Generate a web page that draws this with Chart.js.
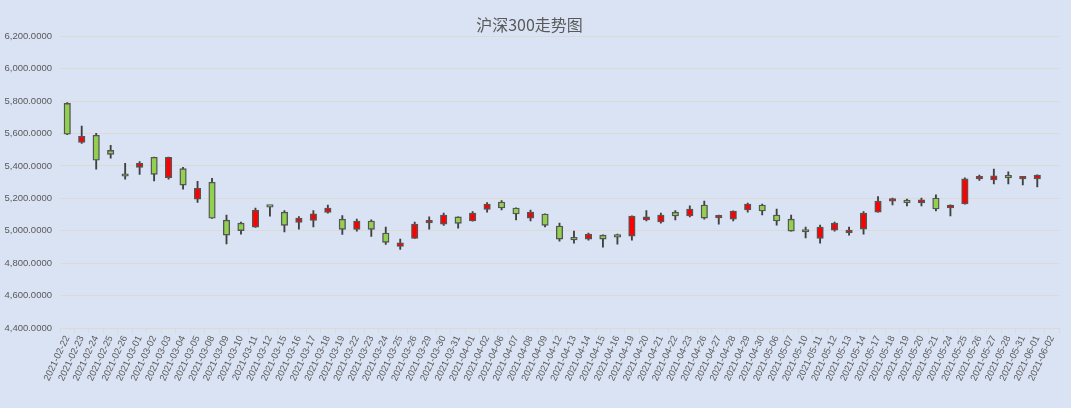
<!DOCTYPE html>
<html>
<head>
<meta charset="utf-8">
<script src="https://cdn.jsdelivr.net/npm/chart.js@4.4.0/dist/chart.umd.min.js"></script>
<style>
  html, body { margin: 0; padding: 0; background: #dae3f3; }
  #wrap { width: 1071px; height: 408px; }
</style>
</head>
<body>
<div id="wrap"><canvas id="kChart"></canvas></div>
<script>
const labels = [
  "2021-02-22", "2021-02-23", "2021-02-24", "2021-02-25", "2021-02-26",
  "2021-03-01", "2021-03-02", "2021-03-03", "2021-03-04", "2021-03-05",
  "2021-03-08", "2021-03-09", "2021-03-10", "2021-03-11", "2021-03-12",
  "2021-03-15", "2021-03-16", "2021-03-17", "2021-03-18", "2021-03-19",
  "2021-03-22", "2021-03-23", "2021-03-24", "2021-03-25", "2021-03-26",
  "2021-03-29", "2021-03-30", "2021-03-31", "2021-04-01", "2021-04-02",
  "2021-04-06", "2021-04-07", "2021-04-08", "2021-04-09",
  "2021-04-12", "2021-04-13", "2021-04-14", "2021-04-15", "2021-04-16",
  "2021-04-19", "2021-04-20", "2021-04-21", "2021-04-22", "2021-04-23",
  "2021-04-26", "2021-04-27", "2021-04-28", "2021-04-29", "2021-04-30",
  "2021-05-06", "2021-05-07",
  "2021-05-10", "2021-05-11", "2021-05-12", "2021-05-13", "2021-05-14",
  "2021-05-17", "2021-05-18", "2021-05-19", "2021-05-20", "2021-05-21",
  "2021-05-24", "2021-05-25", "2021-05-26", "2021-05-27", "2021-05-28",
  "2021-05-31", "2021-06-01", "2021-06-02"
];

const openData = [
  5786, 5545, 5589, 5496, 5342, 5391, 5453, 5328, 5383, 5194,
  5299, 5065, 5047, 5022, 5151, 5115, 5052, 5064, 5113, 5072,
  5008, 5060, 4986, 4903, 4953, 5048, 5041, 5085, 5060, 5132,
  5177, 5140, 5078, 5103, 5029, 4950, 4948, 4973, 4965, 4967,
  5066, 5054, 5115, 5091, 5159, 5079, 5072, 5128, 5159, 5097,
  5072, 5004, 4953, 5004, 4988, 5010, 5115, 5183, 5177, 5171,
  5202, 5140, 5165, 5320, 5313, 5338, 5320, 5320, null
];
const highData = [
  5790, 5646, 5601, 5527, 5416, 5426, 5454, 5454, 5391, 5305,
  5324, 5096, 5053, 5139, 5152, 5124, 5087, 5124, 5159, 5093,
  5072, 5068, 5023, 4948, 5054, 5085, 5109, 5086, 5118, 5173,
  5186, 5141, 5128, 5104, 5047, 4998, 4986, 4974, 4979, 5092,
  5124, 5109, 5124, 5153, 5183, 5097, 5123, 5171, 5165, 5134,
  5097, 5023, 5035, 5054, 5023, 5118, 5210, 5202, 5196, 5202,
  5221, 5160, 5326, 5344, 5381, 5363, 5333, 5345, null
];
const lowData = [
  5592, 5539, 5379, 5447, 5318, 5348, 5307, 5318, 5256, 5174,
  5076, 4919, 4979, 5021, 5090, 4992, 5010, 5023, 5109, 4977,
  4998, 4965, 4915, 4884, 4952, 5010, 5033, 5016, 5059, 5115,
  5128, 5066, 5060, 5023, 4936, 4924, 4942, 4899, 4917, 4942,
  5060, 5047, 5066, 5085, 5072, 5041, 5060, 5115, 5097, 5035,
  4997, 4955, 4924, 4998, 4973, 4979, 5114, 5159, 5153, 5153,
  5122, 5091, 5164, 5311, 5289, 5289, 5282, 5270, null
];
const closeData = [
  5595, 5582, 5435, 5471, 5336, 5416, 5348, 5453, 5281, 5262,
  5077, 4973, 5001, 5127, 5146, 5033, 5078, 5105, 5140, 5008,
  5060, 5008, 4928, 4926, 5041, 5052, 5097, 5045, 5109, 5165,
  5140, 5103, 5115, 5033, 4948, 4944, 4979, 4948, 4961, 5091,
  5085, 5097, 5091, 5134, 5078, 5090, 5122, 5165, 5122, 5060,
  4998, 4992, 5023, 5047, 4990, 5109, 5183, 5187, 5173, 5190,
  5134, 5159, 5320, 5325, 5338, 5326, 5332, 5344, null
];

const yTicks = [4400, 4600, 4800, 5000, 5200, 5400, 5600, 5800, 6000, 6200];

const upColor = "#ff0000";
const downColor = "#92d050";
const edgeColor = "#555555";
const gridColor = "#dcdad6";
const textColor = "#595959";

const bodies = labels.map((_, i) =>
  openData[i] == null ? null : [Math.min(openData[i], closeData[i]), Math.max(openData[i], closeData[i])]
);
const wicks = labels.map((_, i) => (lowData[i] == null ? null : [lowData[i], highData[i]]));
const bodyColors = labels.map((_, i) => (closeData[i] >= openData[i] ? upColor : downColor));

new Chart(document.getElementById("kChart"), {
  type: "bar",
  data: {
    labels: labels,
    datasets: [
      {
        label: "body",
        data: bodies,
        backgroundColor: bodyColors,
        borderColor: edgeColor,
        borderWidth: 1.4,
        borderSkipped: false,
        barThickness: 6.5,
        minBarLength: 2.5,
        grouped: false,
        order: 0,
      },
      {
        label: "wick",
        data: wicks,
        backgroundColor: "#404040",
        borderWidth: 0,
        barThickness: 1.2,
        grouped: false,
        order: 1,
      },
    ],
  },
  options: {
    responsive: true,
    maintainAspectRatio: false,
    animation: false,
    layout: { padding: { left: 0, right: 12, top: 0, bottom: 0 } },
    plugins: {
      legend: { display: false },
      tooltip: { enabled: false },
      title: {
        display: true,
        text: "沪深300走势图",
        color: textColor,
        font: { family: "'Noto Sans CJK SC', 'Noto Sans'", size: 16, weight: "normal" },
        padding: { top: 15, bottom: 2 },
      },
    },
    scales: {
      x: {
        offset: true,
        grid: {
          display: true,
          offset: true,
          drawOnChartArea: false,
          drawTicks: true,
          tickLength: 5,
          color: gridColor,
        },
        border: { display: true, color: gridColor },
        ticks: {
          autoSkip: false,
          maxRotation: 65,
          minRotation: 65,
          color: textColor,
          padding: 1,
          font: { family: "'Liberation Sans', 'DejaVu Sans'", size: 9.5 },
        },
        afterFit: (scale) => { scale.height = 80; },
      },
      y: {
        min: yTicks[0],
        max: yTicks[yTicks.length - 1],
        afterBuildTicks: (scale) => { scale.ticks = yTicks.map((v) => ({ value: v })); },
        grid: { color: gridColor, drawTicks: false },
        border: { display: false },
        ticks: {
          color: textColor,
          padding: 8,
          font: { family: "'Liberation Sans', 'DejaVu Sans'", size: 9.5 },
          callback: (v) => v.toLocaleString("en-US", { minimumFractionDigits: 4, maximumFractionDigits: 4 }),
        },
        afterFit: (scale) => { scale.width = 60; },
      },
    },
  },
});
</script>
</body>
</html>
